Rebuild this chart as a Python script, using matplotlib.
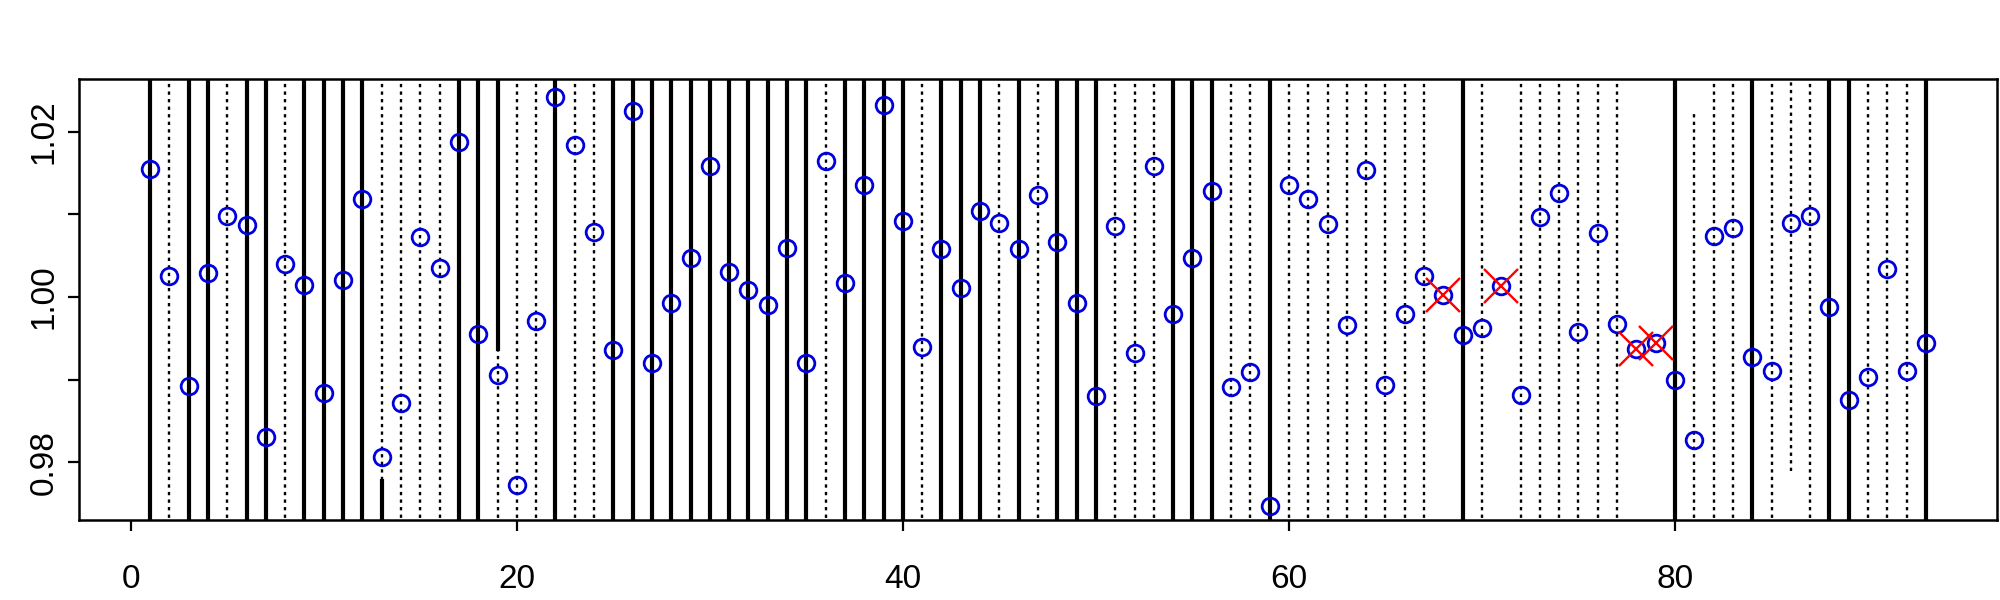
import numpy as np
import matplotlib
matplotlib.use("Agg")
import matplotlib.pyplot as plt

plt.rcParams['font.family'] = ['Liberation Sans', 'DejaVu Sans']

# index of each observation and its value
idx = np.arange(1, 94)
vals = [1.0155, 1.0025, 0.9892, 1.0029, 1.0098, 1.0087, 0.9831, 1.0040, 1.0014, 0.9884,
        1.0020, 1.0119, 0.9807, 0.9872, 1.0073, 1.0035, 1.0187, 0.9955, 0.9906, 0.9773,
        0.9971, 1.0242, 1.0184, 1.0078, 0.9936, 1.0225, 0.9920, 0.9993, 1.0047, 1.0159,
        1.0030, 1.0008, 0.9990, 1.0059, 0.9920, 1.0165, 1.0017, 1.0135, 1.0232, 1.0092,
        0.9940, 1.0058, 1.0011, 1.0104, 1.0089, 1.0058, 1.0123, 1.0067, 0.9993, 0.9880,
        1.0086, 0.9932, 1.0158, 0.9980, 1.0047, 1.0128, 0.9891, 0.9909, 0.9747, 1.0135,
        1.0118, 1.0088, 0.9966, 1.0153, 0.9893, 0.9980, 1.0025, 1.0002, 0.9954, 0.9962,
        1.0013, 0.9881, 1.0097, 1.0126, 0.9958, 1.0077, 0.9967, 0.9937, 0.9944, 0.9900,
        0.9827, 1.0074, 1.0084, 0.9928, 0.9911, 1.0089, 1.0098, 0.9988, 0.9875, 0.9903,
        1.0034, 0.9911, 0.9944]

# line kind per index: S = solid, D = dotted, - = no line
kinds = ("SDSSDSSDSS" "SSDDDDSSDD" "DSDDSSSSSS" "SSSSSDSSSS" "DSSSDSDSSS"
         "DDDSSSDDSD" "DDDDDDD-SD" "-DDDDDD--S" "DDDSDDDSSD" "DDS")

LOW, HIGH = 0.95, 1.05
# intervals that end inside the plot: index -> (kind, lower, upper)
partial = {13: ('S', LOW, 0.978), 19: ('S', 0.9935, HIGH),
           81: ('D', LOW, 1.0225), 86: ('D', 0.979, HIGH)}

flagged = [68, 71, 78, 79]

fig = plt.figure(figsize=(20, 6), dpi=100)
ax = fig.add_axes([0.0395, 0.1333, 0.959, 0.7352])

dot = (0, (1.4, 1.8))
SW = 3.0
for i, k in zip(idx, kinds):
    if k == '-':
        continue
    lo, hi = LOW, HIGH
    if i in partial and partial[i][0] == k:
        lo, hi = partial[i][1], partial[i][2]
    if k == 'S':
        ax.vlines(i, lo, hi, colors='black', linewidth=SW)
    else:
        ax.vlines(i, lo, hi, colors='black', linewidth=1.7, linestyles=[dot])
    if i in partial and partial[i][0] != k:
        ax.vlines(i, partial[i][1], partial[i][2], colors='black', linewidth=SW)

ax.plot(idx, vals, 'o', mfc='none', mec='#0000dd', ms=12, mew=2.0, zorder=3)
fv = [vals[i - 1] for i in flagged]
ax.plot(flagged, fv, 'x', color='red', ms=25, mew=1.7, zorder=4)

ax.set_xlim(-2.68, 96.68)
ax.set_ylim(0.97302, 1.02638)
ax.set_xticks([0, 20, 40, 60, 80])
ax.set_yticks([0.98, 0.99, 1.00, 1.01, 1.02])
ax.set_yticklabels(['0.98', '', '1.00', '', '1.02'], rotation=90, va='center')
ax.tick_params(axis='both', length=8, width=1.6, labelsize=24)
ax.tick_params(axis='x', pad=24)
ax.tick_params(axis='y', pad=6)
for s in ax.spines.values():
    s.set_linewidth(1.8)

fig.savefig('out.png', dpi=100)
